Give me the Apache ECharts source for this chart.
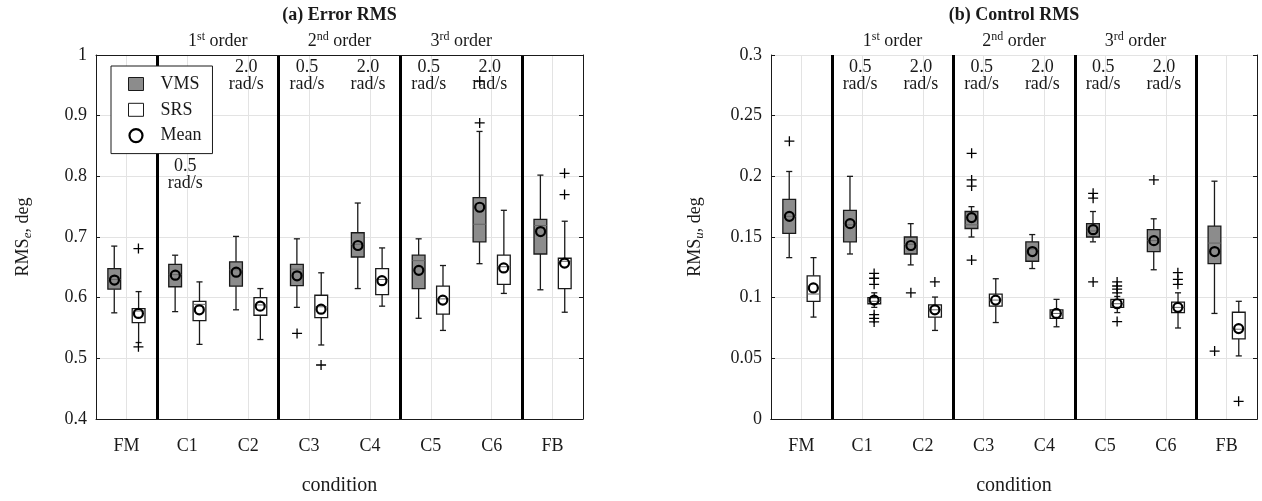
<!DOCTYPE html>
<html lang="en">
<head>
    <meta charset="UTF-8">
    <title>RMS boxplots</title>
    <style>
        html, body { margin: 0; padding: 0; background: #fff; }
        #main { width: 1262px; height: 501px; }
    </style>
    <script src="https://cdn.jsdelivr.net/npm/echarts@6/dist/echarts.min.js"></script>
</head>
<body>
    <div id="main"></div>
    <script>
        // categories
        var categories = ['FM', 'C1', 'C2', 'C3', 'C4', 'C5', 'C6', 'FB'];
        var rateLabels = ['', '0.5', '2.0', '0.5', '2.0', '0.5', '2.0', ''];

        // (a) error RMS -- [low, q1, median, q3, high] per condition
        var errVms = [
            [0.575, 0.614, 0.630, 0.648, 0.685],
            [0.577, 0.618, 0.638, 0.655, 0.670],
            [0.580, 0.619, 0.646, 0.659, 0.701],
            [0.584, 0.620, 0.647, 0.655, 0.697],
            [0.615, 0.667, 0.688, 0.707, 0.756],
            [0.566, 0.615, 0.661, 0.670, 0.697],
            [0.656, 0.692, 0.721, 0.765, 0.874],
            [0.613, 0.672, 0.719, 0.729, 0.802]
        ];
        var errSrs = [
            [0.526, 0.559, 0.578, 0.582, 0.610],
            [0.523, 0.562, 0.589, 0.594, 0.626],
            [0.531, 0.571, 0.588, 0.600, 0.615],
            [0.522, 0.567, 0.585, 0.604, 0.641],
            [0.586, 0.605, 0.630, 0.648, 0.682],
            [0.546, 0.573, 0.598, 0.619, 0.653],
            [0.607, 0.622, 0.651, 0.670, 0.744],
            [0.576, 0.615, 0.660, 0.665, 0.726]
        ];
        var errVmsMean = [0.629, 0.637, 0.642, 0.636, 0.686, 0.645, 0.749, 0.709];
        var errSrsMean = [0.574, 0.580, 0.586, 0.581, 0.628, 0.596, 0.649, 0.657];
        var errVmsOut = [[3, 0.541], [6, 0.888], [6, 0.957]];
        var errSrsOut = [[0, 0.681], [0, 0.519], [3, 0.489], [7, 0.770], [7, 0.805]];

        // (b) control RMS
        var ctlVms = [
            [0.133, 0.153, 0.167, 0.181, 0.204],
            [0.136, 0.146, 0.160, 0.172, 0.200],
            [0.127, 0.136, 0.144, 0.150, 0.161],
            [0.150, 0.157, 0.160, 0.171, 0.175],
            [0.124, 0.130, 0.140, 0.146, 0.152],
            [0.146, 0.150, 0.155, 0.161, 0.171],
            [0.123, 0.138, 0.147, 0.156, 0.165],
            [0.087, 0.128, 0.145, 0.159, 0.196]
        ];
        var ctlSrs = [
            [0.084, 0.097, 0.103, 0.118, 0.133],
            [0.092, 0.095, 0.097, 0.100, 0.104],
            [0.073, 0.084, 0.090, 0.094, 0.1005],
            [0.0795, 0.093, 0.098, 0.103, 0.1156],
            [0.076, 0.083, 0.087, 0.090, 0.0986],
            [0.0877, 0.092, 0.095, 0.0986, 0.101],
            [0.075, 0.0877, 0.092, 0.0964, 0.104],
            [0.052, 0.066, 0.074, 0.088, 0.097]
        ];
        var ctlVmsMean = [0.167, 0.161, 0.143, 0.166, 0.138, 0.156, 0.147, 0.138];
        var ctlSrsMean = [0.108, 0.098, 0.090, 0.098, 0.087, 0.095, 0.092, 0.0745];
        var ctlVmsOut = [[0, 0.229], [2, 0.104], [3, 0.219], [3, 0.197], [3, 0.192], [3, 0.131],
            [5, 0.186], [5, 0.182], [5, 0.113], [6, 0.197], [7, 0.056]];
        var ctlSrsOut = [[1, 0.120], [1, 0.116], [1, 0.111], [1, 0.086], [1, 0.083], [1, 0.080],
            [2, 0.113], [5, 0.113], [5, 0.1096], [5, 0.107], [5, 0.104], [5, 0.0803],
            [6, 0.1206], [6, 0.115], [6, 0.111], [7, 0.0146]];

        var FONT = 'Liberation Serif';
        var FS = 18;
        var INK = '#1a1a1a';
        var GRID = '#e3e3e3';
        var PLUS = 'path://M4.35,0h1.3v4.35h4.35v1.3h-4.35v4.35h-1.3v-4.35h-4.35v-1.3h4.35z';
        var halfBands = [], edges = [];
        for (var k = 0; k < categories.length * 2; k++) halfBands.push('');
        for (k = 0; k <= categories.length; k++) edges.push('');
        function odd(i) { return i % 2 === 1; }

        var chart = echarts.init(document.getElementById('main'));

        function boxRenderer(fill, side) {
            return function (params, api) {
                var band = api.size([1, 0])[0];
                var cx = api.coord([api.value(0), api.value(3)])[0] + side * band * 0.2;
                var w = band * 0.21, cap = band * 0.1;
                var y = function (i) { return api.coord([api.value(0), api.value(i)])[1]; };
                var lo = y(1), q1 = y(2), md = y(3), q3 = y(4), hi = y(5);
                var ln = { stroke: INK, lineWidth: 1.3 };
                return {
                    type: 'group',
                    children: [
                        { type: 'line', shape: { x1: cx, y1: hi, x2: cx, y2: q3 }, style: ln },
                        { type: 'line', shape: { x1: cx, y1: q1, x2: cx, y2: lo }, style: ln },
                        { type: 'line', shape: { x1: cx - cap / 2, y1: hi, x2: cx + cap / 2, y2: hi }, style: ln },
                        { type: 'line', shape: { x1: cx - cap / 2, y1: lo, x2: cx + cap / 2, y2: lo }, style: ln },
                        { type: 'rect', shape: { x: cx - w / 2, y: q3, width: w, height: q1 - q3 },
                          style: { fill: fill, stroke: INK, lineWidth: 1.3 } },
                        { type: 'line', shape: { x1: cx - w / 2, y1: md, x2: cx + w / 2, y2: md },
                          style: { stroke: '#666', lineWidth: 1 } }
                    ]
                };
            };
        }

        function withIndex(stats) {
            return stats.map(function (s, i) { return [i].concat(s); });
        }
        function meanPoints(arr) {
            return arr.map(function (v, i) { return [i, v]; });
        }

        var grids = [
            { left: 96, top: 55, width: 487, height: 365 },
            { left: 771, top: 55, width: 486, height: 365 }
        ];
        var yRanges = [
            { min: 0.4, max: 1, interval: 0.1, name: 'RMS{sub|e}, deg' },
            { min: 0, max: 0.3, interval: 0.05, name: 'RMS{sub|u}, deg' }
        ];
        var panels = [
            { vms: errVms, srs: errSrs, vmsMean: errVmsMean, srsMean: errSrsMean, vmsOut: errVmsOut, srsOut: errSrsOut },
            { vms: ctlVms, srs: ctlSrs, vmsMean: ctlVmsMean, srsMean: ctlSrsMean, vmsOut: ctlVmsOut, srsOut: ctlSrsOut }
        ];

        var xAxes = [], yAxes = [], series = [];
        panels.forEach(function (p, g) {
            // conditions, bottom
            xAxes.push({
                type: 'category', gridIndex: g, data: categories, position: 'bottom',
                name: 'condition', nameLocation: 'middle', nameGap: 57,
                nameTextStyle: { fontFamily: FONT, fontSize: 20, color: INK },
                axisLine: { lineStyle: { color: INK, width: 1 } },
                axisTick: { inside: true, alignWithLabel: true, length: 4, interval: 0, lineStyle: { color: INK } },
                axisLabel: { fontFamily: FONT, fontSize: FS, color: INK, margin: 18, interval: 0 },
                splitLine: { show: false }
            });
            // top frame, light gridlines at category centres
            xAxes.push({
                type: 'category', gridIndex: g, data: halfBands, position: 'top',
                axisLine: { lineStyle: { color: INK, width: 1 } },
                axisTick: { inside: true, length: 4, interval: odd, lineStyle: { color: INK } },
                axisLabel: { show: false },
                splitLine: { show: true, interval: odd, lineStyle: { color: GRID, width: 1 } }
            });
            // group separators at band edges
            xAxes.push({
                type: 'category', gridIndex: g, data: edges, boundaryGap: false, position: 'bottom',
                axisLine: { show: false }, axisTick: { show: false }, axisLabel: { show: false },
                splitLine: { show: true, interval: odd, lineStyle: { color: '#000', width: 3 } }
            });
            var yr = yRanges[g];
            yAxes.push({
                type: 'value', gridIndex: g, min: yr.min, max: yr.max, interval: yr.interval, position: 'left',
                name: yr.name, nameLocation: 'middle', nameGap: g === 0 ? 62 : 65,
                nameTextStyle: {
                    fontFamily: FONT, fontSize: FS, color: INK,
                    rich: { sub: { fontFamily: FONT, fontSize: 13, fontStyle: 'italic', color: INK, padding: [8, 0, 0, 0] } }
                },
                axisLine: { show: true, lineStyle: { color: INK, width: 1 } },
                axisTick: { show: true, inside: true, length: 4, lineStyle: { color: INK } },
                axisLabel: { fontFamily: FONT, fontSize: FS, color: INK, margin: 9 },
                splitLine: { show: true, lineStyle: { color: GRID, width: 1 } }
            });
            yAxes.push({
                type: 'value', gridIndex: g, min: yr.min, max: yr.max, interval: yr.interval, position: 'right',
                axisLine: { show: true, lineStyle: { color: INK, width: 1 } },
                axisTick: { show: true, inside: true, length: 4, lineStyle: { color: INK } },
                axisLabel: { show: false },
                splitLine: { show: false }
            });

            var xi = g * 3, yi = g * 2;
            series.push({
                name: 'VMS', type: 'custom', xAxisIndex: xi, yAxisIndex: yi,
                renderItem: boxRenderer('#8c8c8c', -1),
                encode: { x: 0, y: [1, 2, 3, 4, 5] },
                data: withIndex(p.vms), z: 3
            });
            series.push({
                name: 'SRS', type: 'custom', xAxisIndex: xi, yAxisIndex: yi,
                renderItem: boxRenderer('#ffffff', 1),
                encode: { x: 0, y: [1, 2, 3, 4, 5] },
                data: withIndex(p.srs), z: 3
            });
            [[p.vmsMean, -12], [p.srsMean, 12]].forEach(function (m) {
                series.push({
                    name: 'Mean', type: 'scatter', xAxisIndex: xi, yAxisIndex: yi,
                    symbol: 'circle', symbolSize: 9, symbolOffset: [m[1], 0],
                    itemStyle: { color: 'rgba(0,0,0,0)', borderColor: '#000', borderWidth: 2.2, opacity: 1 },
                    data: meanPoints(m[0]), z: 5, silent: true
                });
            });
            [[p.vmsOut, -12], [p.srsOut, 12]].forEach(function (o) {
                series.push({
                    name: 'outlier', type: 'scatter', xAxisIndex: xi, yAxisIndex: yi,
                    symbol: PLUS, symbolSize: 10, symbolOffset: [o[1], 0],
                    itemStyle: { color: '#000', opacity: 1 },
                    data: o[0], z: 4, silent: true
                });
            });
        });

        var option = {
            animation: false,
            backgroundColor: '#fff',
            grid: grids,
            xAxis: xAxes,
            yAxis: yAxes,
            legend: {
                left: 111, top: 66, orient: 'vertical', selectedMode: false,
                backgroundColor: '#fff', borderColor: INK, borderWidth: 1, borderRadius: 0,
                padding: [9, 11, 9, 17], itemWidth: 15, itemHeight: 13, itemGap: 7.8,
                textStyle: { fontFamily: FONT, fontSize: FS, color: INK, padding: [0, 0, 0, 12] },
                data: [
                    { name: 'VMS', icon: 'rect', itemStyle: { color: '#8c8c8c', borderColor: INK, borderWidth: 1 } },
                    { name: 'SRS', icon: 'rect', itemStyle: { color: '#fff', borderColor: INK, borderWidth: 1 } },
                    { name: 'Mean', icon: 'circle', itemStyle: { color: '#fff', borderColor: '#000', borderWidth: 2.2 } }
                ],
                z: 10
            },
            series: series
        };
        chart.setOption(option);

        // annotations placed from the axes' own pixel mapping
        function cx(g, cat) { return chart.convertToPixel({ xAxisIndex: g * 3 }, cat); }
        var sup = { fontFamily: FONT, fontSize: 12, fill: INK, padding: [0, 0, 9, 0] };
        var titles = ['(a) Error RMS', '(b) Control RMS'];
        var orders = [['1', 'st'], ['2', 'nd'], ['3', 'rd']];
        var graphics = [];
        [0, 1].forEach(function (g) {
            var mid = (cx(g, categories[0]) + cx(g, categories[7])) / 2;
            graphics.push({ type: 'text', x: mid, y: 15, style: {
                text: titles[g], fontFamily: FONT, fontSize: FS, fontWeight: 'bold', fill: INK,
                textAlign: 'center', textVerticalAlign: 'middle' } });
            orders.forEach(function (o, j) {
                var x = (cx(g, categories[1 + 2 * j]) + cx(g, categories[2 + 2 * j])) / 2;
                graphics.push({ type: 'text', x: x, y: 41, style: {
                    text: o[0] + '{s|' + o[1] + '} order', rich: { s: sup },
                    fontFamily: FONT, fontSize: FS, fill: INK, textAlign: 'center', textVerticalAlign: 'middle' } });
            });
            rateLabels.forEach(function (r, i) {
                if (!r) return;
                var yTop = (g === 0 && i === 1) ? 158 : 59;
                graphics.push({ type: 'text', x: cx(g, categories[i]) - 2, y: yTop + 17, style: {
                    text: r + '\nrad/s', lineHeight: 17, fontFamily: FONT, fontSize: FS, fill: INK,
                    textAlign: 'center', textVerticalAlign: 'middle' } });
            });
        });
        chart.setOption({ graphic: graphics });
    </script>
</body>
</html>
